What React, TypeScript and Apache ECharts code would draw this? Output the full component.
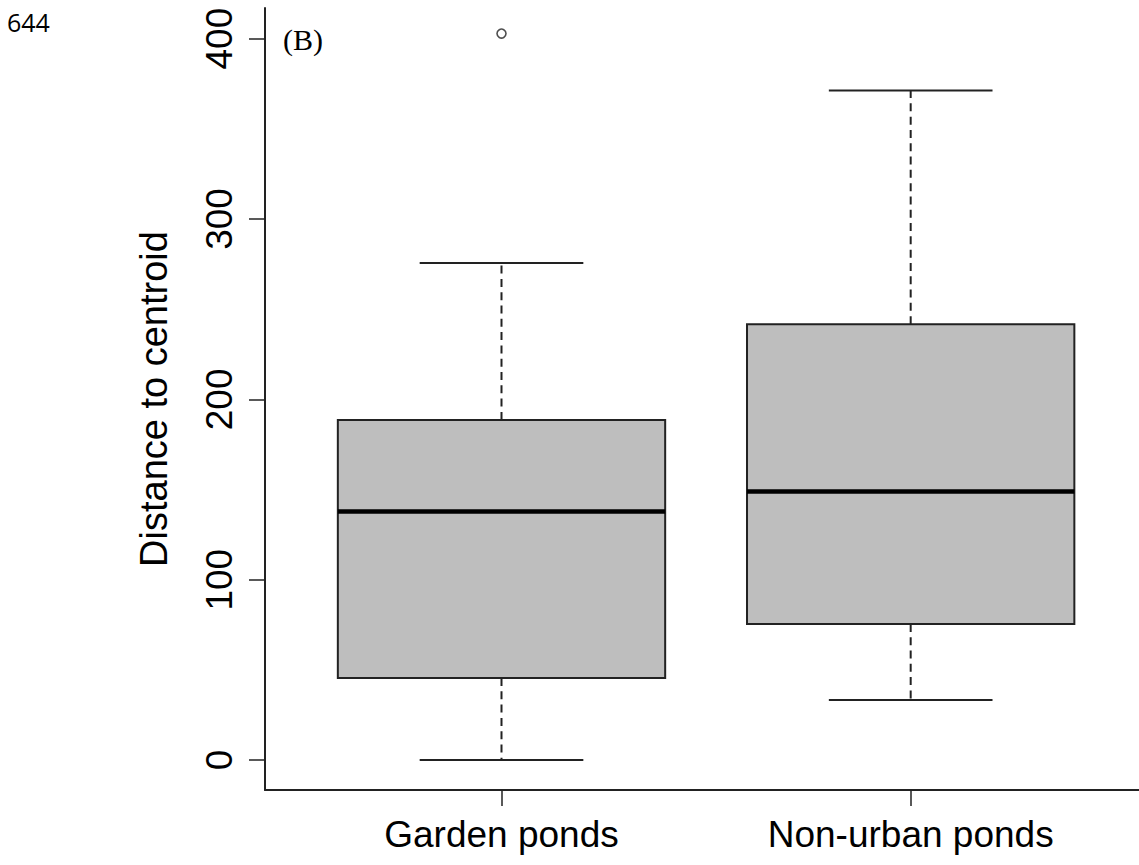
import React, { useEffect, useRef } from "react";
import * as echarts from "echarts";

// ---- data ----
const categories = ["Garden ponds", "Non-urban ponds"];
const categoryPositions = [1, 2];
const whiskerLow = [0, 33.3];
const quartile1 = [45.5, 75.5];
const medians = [137.8, 148.9];
const quartile3 = [188.6, 241.7];
const whiskerHigh = [275.6, 371.3];
const outlierCategory = [1];
const outlierValue = [402.8];
const yTicks = [0, 100, 200, 300, 400];
const yTitle = "Distance to centroid";
const panelLabel = "(B)";
const pageNumber = "644";

export default function App() {
  const ref = useRef<HTMLDivElement>(null);

  useEffect(() => {
    if (!ref.current) return;
    const chart = echarts.init(ref.current, undefined, { renderer: "svg" });

    const boxData = categoryPositions.map((p, i) => [
      p,
      whiskerLow[i],
      quartile1[i],
      medians[i],
      quartile3[i],
      whiskerHigh[i],
    ]);
    const outlierData = outlierCategory.map((c, i) => [c, outlierValue[i]]);

    const stroke = "#222";
    const font = "'Liberation Sans', Arial, sans-serif";

    const option: any = {
      animation: false,
      backgroundColor: "#fff",
      grid: { left: 265, top: 8, right: 0, bottom: 75, containLabel: false },
      xAxis: {
        type: "value",
        min: 0.422,
        max: 2.558,
        splitLine: { show: false },
        axisLine: { show: true, onZero: false, lineStyle: { color: stroke, width: 2 } },
        axisTick: {
          show: true,
          customValues: categoryPositions,
          length: 16,
          lineStyle: { color: stroke, width: 1.5 },
        },
        axisLabel: {
          customValues: categoryPositions,
          formatter: (v: number) => categories[Math.round(v) - 1] ?? "",
          fontSize: 37,
          fontFamily: font,
          color: "#000",
          margin: 26,
        },
      },
      yAxis: {
        type: "value",
        min: -16.6,
        max: 417,
        splitLine: { show: false },
        axisLine: { show: true, onZero: false, lineStyle: { color: stroke, width: 2 } },
        axisTick: {
          show: true,
          customValues: yTicks,
          length: 16,
          lineStyle: { color: stroke, width: 1.5 },
        },
        axisLabel: {
          customValues: yTicks,
          rotate: 90,
          fontSize: 37,
          fontFamily: font,
          color: "#000",
          margin: 27,
        },
        name: yTitle,
        nameLocation: "middle",
        nameRotate: 90,
        nameGap: 92,
        nameTextStyle: { fontSize: 38, fontFamily: font, color: "#000" },
      },
      series: [
        {
          type: "custom",
          data: boxData,
          encode: { x: 0, y: [1, 2, 3, 4, 5] },
          renderItem: (params: any, api: any) => {
            const x = api.value(0);
            const low = api.coord([x, api.value(1)]);
            const q1 = api.coord([x, api.value(2)]);
            const med = api.coord([x, api.value(3)]);
            const q3 = api.coord([x, api.value(4)]);
            const high = api.coord([x, api.value(5)]);
            const cx = low[0];
            const halfBox = api.size([0.4, 0])[0];
            const halfStaple = api.size([0.2, 0])[0];
            const dash = [8, 5.3];
            return {
              type: "group",
              children: [
                {
                  type: "line",
                  shape: { x1: cx, y1: q3[1], x2: cx, y2: high[1] },
                  style: { stroke, lineWidth: 2, lineDash: dash },
                },
                {
                  type: "line",
                  shape: { x1: cx, y1: q1[1], x2: cx, y2: low[1] },
                  style: { stroke, lineWidth: 2, lineDash: dash },
                },
                {
                  type: "line",
                  shape: { x1: cx - halfStaple, y1: high[1], x2: cx + halfStaple, y2: high[1] },
                  style: { stroke, lineWidth: 2 },
                },
                {
                  type: "line",
                  shape: { x1: cx - halfStaple, y1: low[1], x2: cx + halfStaple, y2: low[1] },
                  style: { stroke, lineWidth: 2 },
                },
                {
                  type: "rect",
                  shape: { x: cx - halfBox, y: q3[1], width: 2 * halfBox, height: q1[1] - q3[1] },
                  style: { fill: "#BEBEBE", stroke, lineWidth: 2 },
                },
                {
                  type: "line",
                  shape: { x1: cx - halfBox, y1: med[1], x2: cx + halfBox, y2: med[1] },
                  style: { stroke: "#000", lineWidth: 4.5 },
                },
              ],
            };
          },
        },
        {
          type: "scatter",
          data: outlierData,
          symbol: "circle",
          symbolSize: 9,
          itemStyle: { color: "#fff", borderColor: stroke, borderWidth: 1.6 },
        },
      ],
      graphic: [
        {
          type: "text",
          left: 7,
          top: 9,
          style: {
            text: pageNumber,
            fontSize: 25,
            fontFamily: "'Open Sans', 'Noto Sans', sans-serif",
            fill: "#000",
          },
        },
        {
          type: "text",
          x: 283,
          y: 39.5,
          style: {
            text: panelLabel,
            fontSize: 30,
            fontFamily: "'Liberation Serif', 'Times New Roman', serif",
            fill: "#000",
            verticalAlign: "middle",
          },
        },
      ],
    };

    chart.setOption(option);
    return () => chart.dispose();
  }, []);

  return (
    <div
      ref={ref}
      style={{ position: "absolute", left: 0, top: 0, width: 1139, height: 865 }}
    />
  );
}
